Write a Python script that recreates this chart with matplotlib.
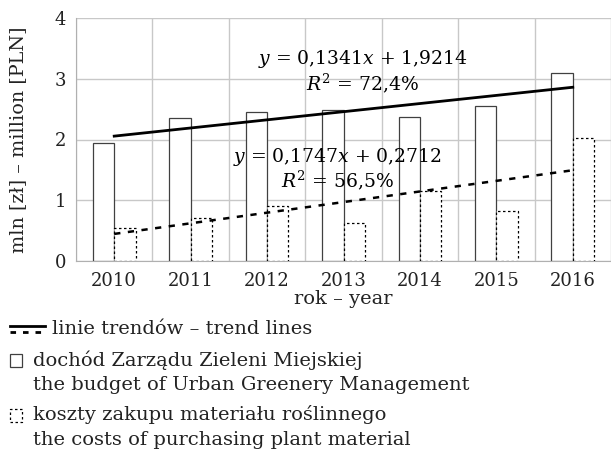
import numpy as np
import matplotlib
matplotlib.use("Agg")
import matplotlib.pyplot as plt
from matplotlib.lines import Line2D
from matplotlib.patches import Rectangle

plt.rcParams['font.family'] = ['DejaVu Serif']
plt.rcParams['mathtext.fontset'] = 'dejavuserif'

years = ['2010', '2011', '2012', '2013', '2014', '2015', '2016']
budget = [1.94, 2.35, 2.46, 2.48, 2.37, 2.55, 3.09]
plant_costs = [0.54, 0.70, 0.91, 0.62, 1.15, 0.83, 2.02]
# trend coefficients printed on the chart (x = 1..7)
trend_budget = (0.1341, 1.9214)
trend_costs = (0.1747, 0.2712)

fig = plt.figure(figsize=(6.11, 4.51), dpi=100)
ax = fig.add_axes([76/611, 1 - 261/451, 535/611, 243/451])

x = np.arange(len(years))
w = 0.28
ax.bar(x - w/2, budget, w, facecolor='white', edgecolor='#404040', linewidth=0.9, zorder=2)
ax.bar(x + w/2, plant_costs, w, facecolor='white', edgecolor='black', linewidth=0.9,
       linestyle=(0, (2, 2)), zorder=2)

xt = x + 1
ax.plot(x, trend_budget[0]*xt + trend_budget[1], color='black', lw=2.0, zorder=3)
ax.plot(x, trend_costs[0]*xt + trend_costs[1], color='black', lw=1.8,
        linestyle=(0, (2.5, 3)), zorder=3)

fs_eq = 13.5
ax.text(3.25, 3.33, '$y$ = 0,1341$x$ + 1,9214', ha='center', va='center', fontsize=fs_eq, zorder=4)
ax.text(3.25, 2.92, '$R^2$ = 72,4%', ha='center', va='center', fontsize=fs_eq, zorder=4)
ax.text(2.92, 1.71, '$y$ = 0,1747$x$ + 0,2712', ha='center', va='center', fontsize=fs_eq, zorder=4)
ax.text(2.92, 1.33, '$R^2$ = 56,5%', ha='center', va='center', fontsize=fs_eq, zorder=4)

ax.set_xlim(-0.5, 6.5)
ax.set_ylim(0, 4)
ax.set_xticks(x)
ax.set_xticklabels(years)
ax.set_xticks(np.arange(-0.5, 7, 1), minor=True)
ax.set_yticks([0, 1, 2, 3, 4])
ax.grid(True, which='minor', axis='x', color='#c8c8c8', lw=1)
ax.grid(True, which='major', axis='y', color='#c8c8c8', lw=1)
ax.set_axisbelow(True)
ax.tick_params(which='both', length=0, labelsize=13, colors='#222222')
ax.tick_params(axis='x', pad=8)
ax.tick_params(axis='y', pad=7)
for s in ['top', 'right']:
    ax.spines[s].set_visible(False)
for s in ['left', 'bottom']:
    ax.spines[s].set_color('#b0b0b0')

ax.set_ylabel('mln [zł] – million [PLN]', fontsize=13.8, color='#222222')
ax.yaxis.set_label_coords(-0.092, 0.5)
ax.set_xlabel('rok – year', fontsize=14, color='#222222', labelpad=0)

# legend, drawn by hand
def px(xp, yp):
    return xp/611, 1 - yp/451

fs = 14
fig.add_artist(Line2D([px(10, 0)[0], px(45, 0)[0]], [px(0, 326)[1]]*2, color='black', lw=2))
fig.add_artist(Line2D([px(10, 0)[0], px(45, 0)[0]], [px(0, 332)[1]]*2, color='black', lw=2,
                      linestyle=(0, (2, 2.5))))
fig.text(*px(52, 329), 'linie trendów – trend lines', va='center', fontsize=fs, color='#222222')

x0, y0 = px(10, 367)
fig.add_artist(Rectangle((x0, y0), 12/611, 13/451, transform=fig.transFigure,
                         facecolor='white', edgecolor='#404040', lw=0.9))
fig.text(*px(33, 360), 'dochód Zarządu Zieleni Miejskiej', va='center', fontsize=fs, color='#222222')
fig.text(*px(33, 385), 'the budget of Urban Greenery Management', va='center', fontsize=fs, color='#222222')

x0, y0 = px(10, 422)
fig.add_artist(Rectangle((x0, y0), 12/611, 13/451, transform=fig.transFigure,
                         facecolor='white', edgecolor='black', lw=0.9, linestyle=(0, (2, 2))))
fig.text(*px(33, 415), 'koszty zakupu materiału roślinnego', va='center', fontsize=fs, color='#222222')
fig.text(*px(33, 440), 'the costs of purchasing plant material', va='center', fontsize=fs, color='#222222')

fig.savefig('out.png', dpi=100)
